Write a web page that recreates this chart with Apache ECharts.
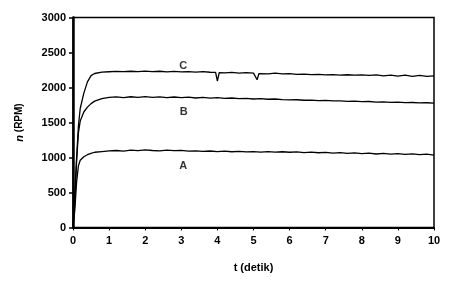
<!DOCTYPE html>
<html><head><meta charset="utf-8">
<script src="https://cdn.jsdelivr.net/npm/echarts@6/dist/echarts.min.js"></script>
<style>html,body{margin:0;padding:0;background:#fff}#c{width:463px;height:289px}</style>
</head><body><div id="c"></div>
<script>
var tBase = [0,0.05,0.1,0.15,0.2,0.3,0.4,0.5,0.6,0.8,
  1.0,1.2,1.4,1.6,1.8,2.0,2.2,2.4,2.6,2.8,3.0,3.2,3.4,3.6,3.8,4.0,4.2,4.4,4.6,4.8,
  5.0,5.2,5.4,5.6,5.8,6.0,6.2,6.4,6.6,6.8,7.0,7.2,7.4,7.6,7.8,8.0,8.2,8.4,8.6,8.8,
  9.0,9.2,9.4,9.6,9.8,10.0];
var seriesA = [0,250,650,880,960,1010,1040,1060,1075,1085,
  1095,1100,1092,1105,1098,1108,1100,1094,1104,1097,1102,1090,1096,1088,1093,1085,1090,1082,1088,1080,
  1085,1078,1084,1076,1082,1075,1080,1070,1078,1068,1074,1062,1070,1058,1066,1055,1062,1050,1058,1048,
  1055,1045,1052,1042,1048,1035];
var seriesB = [0,350,950,1350,1520,1650,1720,1770,1805,1840,
  1858,1865,1855,1868,1860,1870,1858,1866,1855,1864,1856,1862,1850,1858,1848,1855,1845,1850,1840,1846,
  1836,1840,1832,1836,1826,1822,1825,1818,1820,1812,1815,1808,1810,1802,1805,1798,1800,1792,1795,1788,
  1790,1784,1786,1780,1782,1778];
var tC = [0,0.05,0.1,0.15,0.2,0.3,0.4,0.5,0.6,0.8,
  1.0,1.2,1.4,1.6,1.8,2.0,2.2,2.4,2.6,2.8,3.0,3.2,3.4,3.6,3.8,3.95,4.0,4.05,4.2,4.4,4.6,4.8,
  5.0,5.05,5.1,5.15,5.2,5.4,5.6,5.8,6.0,6.2,6.4,6.6,6.8,7.0,7.2,7.4,7.6,7.8,8.0,8.2,8.4,8.6,8.8,
  9.0,9.2,9.4,9.6,9.8,10.0];
var seriesC = [0,500,1000,1450,1700,1920,2080,2170,2200,2220,
  2225,2230,2226,2232,2228,2234,2226,2232,2224,2230,2222,2228,2220,2226,2218,2215,2090,2212,2210,2215,2206,2212,
  2205,2200,2110,2198,2202,2196,2204,2194,2198,2188,2192,2184,2188,2180,2184,2178,2182,2176,2180,2172,2180,2165,2178,
  2162,2176,2160,2174,2158,2165];
var labelText = ['A','B','C'];
var labelT = [3.05,3.07,3.05];
var labelV = [880,1655,2305];
var xTicks = [0,1,2,3,4,5,6,7,8,9,10];
var yTicks = [0,500,1000,1500,2000,2500,3000];

function pairs(t,v){return t.map(function(x,i){return [x,v[i]];});}
var font = {fontFamily:'Liberation Sans',fontWeight:'bold',fontSize:11,color:'#000'};
var lineStyle = {color:'#000',width:1.3};
var chart = echarts.init(document.getElementById('c'));
chart.setOption({
  animation:false,
  grid:{left:73,right:29,top:17.5,bottom:61.5,show:true,borderColor:'#000',borderWidth:1.5},
  xAxis:{type:'value',min:xTicks[0],max:xTicks[xTicks.length-1],interval:1,
    name:'t (detik)',nameLocation:'middle',nameGap:35,
    nameTextStyle:Object.assign({},font,{fontSize:11}),
    axisLine:{lineStyle:{color:'#000',width:2}},
    axisTick:{show:true,length:3,lineStyle:{color:'#000'}},
    axisLabel:Object.assign({margin:8,formatter:function(v){return String(v);}},font),
    splitLine:{show:false}},
  yAxis:{type:'value',min:yTicks[0],max:yTicks[yTicks.length-1],interval:500,
    name:'{i|n} (RPM)',nameLocation:'middle',nameGap:48,nameRotate:90,
    nameTextStyle:Object.assign({},font,{fontSize:10,rich:{i:{fontStyle:'italic',fontWeight:'bold',fontFamily:'Liberation Sans',fontSize:11,color:'#000'}}}),
    axisLine:{show:true,lineStyle:{color:'#000',width:2.5}},
    axisTick:{show:true,length:4,lineStyle:{color:'#000',width:1.5}},
    axisLabel:Object.assign({margin:7,formatter:function(v){return String(v);}},font),
    splitLine:{show:false}},
  series:[
    {type:'line',data:pairs(tBase,seriesA),showSymbol:false,lineStyle:lineStyle},
    {type:'line',data:pairs(tBase,seriesB),showSymbol:false,lineStyle:lineStyle},
    {type:'line',data:pairs(tC,seriesC),showSymbol:false,lineStyle:lineStyle},
    {type:'scatter',symbolSize:0,data:labelT.map(function(t,i){return {value:[t,labelV[i]],name:labelText[i]};}),
      label:Object.assign({show:true,position:'inside',formatter:'{b}'},font)}
  ]
});
</script></body></html>
